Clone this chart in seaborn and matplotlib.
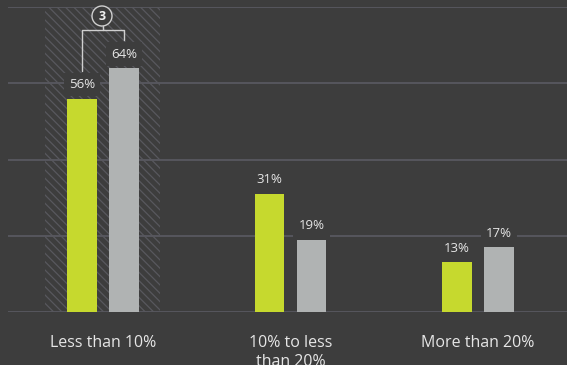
import matplotlib
matplotlib.use("Agg")
import matplotlib.pyplot as plt
import seaborn as sns
import pandas as pd
from matplotlib.patches import Circle

categories = ["Less than 10%", "10% to less\nthan 20%", "More than 20%"]
series_names = ["A", "B"]
values_a = [56, 31, 13]
values_b = [64, 19, 17]
yticks = [0, 20, 40, 60, 80]

BG = "#3d3d3d"
GREEN = "#c6d92e"
GRAY = "#b0b3b3"
GRID = "#5b5a63"
HATCH = "#58585e"
TXT = "#e6e6e6"

df = pd.DataFrame({
    "cat": categories * 2,
    "series": [series_names[0]] * 3 + [series_names[1]] * 3,
    "value": values_a + values_b,
})

sns.set_theme(style="dark")
plt.rcParams["font.family"] = ["Open Sans", "DejaVu Sans"]
plt.rcParams["hatch.linewidth"] = 0.9

W, H = 567, 365
fig = plt.figure(figsize=(W / 100, H / 100), dpi=100, facecolor=BG)
ax = fig.add_axes([8 / W, (H - 312) / H, (W - 8) / W, (312 - 7) / H])
ax.set_facecolor(BG)

sns.barplot(data=df, x="cat", y="value", hue="series", order=categories,
            hue_order=series_names, palette=[GREEN, GRAY], width=0.448,
            gap=0.29, saturation=1, legend=False, ax=ax, zorder=3,
            linewidth=0)

ax.set_ylim(0, 80)
ax.set_xlim(-0.507, 2.475)
ax.set_yticks(yticks)
ax.set_yticklabels([])
ax.tick_params(axis="y", length=0)
ax.tick_params(axis="x", length=0, pad=16.5, labelsize=11.5, colors=TXT)
for lbl in ax.get_xticklabels():
    lbl.set_linespacing(1.25)
    lbl.set_verticalalignment("top")
ax.set_xlabel("")
ax.set_ylabel("")
ax.grid(False)
for y in yticks:
    ax.axhline(y, color=GRID, lw=1.2, zorder=1)
for s in ax.spines.values():
    s.set_visible(False)

# hatched highlight region
ax.axvspan(-0.309, 0.304, ymin=0, ymax=1, facecolor="none", edgecolor=HATCH,
           hatch="\\\\\\\\", linewidth=0, zorder=2)

# value labels
for cont in ax.containers:
    for bar in cont:
        h = bar.get_height()
        xc = bar.get_x() + bar.get_width() / 2
        ax.annotate(f"{h:.0f}%", (xc, h), xytext=(0, 14), textcoords="offset pixels",
                    ha="center", va="center", fontsize=9.5, color=TXT, zorder=5,
                    bbox=dict(boxstyle="square,pad=0.4", fc=BG, ec="none"))

# bracket with circled difference
bars_a = ax.containers[0]
bars_b = ax.containers[1]
xa = bars_a[0].get_x() + bars_a[0].get_width() / 2
xb = bars_b[0].get_x() + bars_b[0].get_width() / 2


def y_from_top(py):
    disp = fig.transFigure.transform((0, (H - py) / H))
    return ax.transData.inverted().transform(disp)[1]


y_top = y_from_top(30)
y_left = y_from_top(71)
y_right = y_from_top(40)
ax.plot([xa, xa, xb, xb], [y_left, y_top, y_top, y_right], color="#cfcfcf",
        lw=1.0, zorder=6, clip_on=False)
xm = (xa + xb) / 2
ax.plot([xm, xm], [y_top, y_from_top(26)], color="#cfcfcf", lw=1.0, zorder=6,
        clip_on=False)
fig.patches.append(Circle((102, H - 16), 10, transform=None,
                          facecolor=BG, edgecolor="#cfcfcf", lw=1.0, zorder=7))
fig.text(102 / W, (H - 16) / H, "3", ha="center", va="center", fontsize=9,
         fontweight="bold", color="#f0f0f0", zorder=8)

fig.savefig("out.png", dpi=100, facecolor=BG)
